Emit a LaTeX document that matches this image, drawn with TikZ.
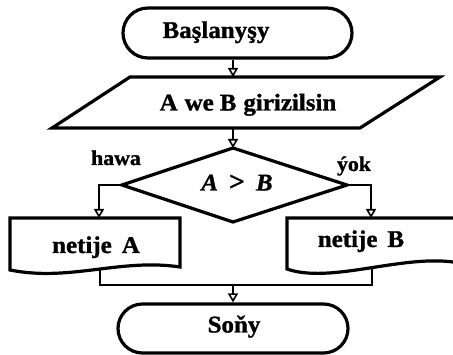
\documentclass[tikz,border=0pt]{standalone}
\usepackage{fontspec}
\setmainfont{Liberation Serif}[FakeStretch=1.04,FakeBold=1.2]
\usetikzlibrary{arrows.meta,shapes.misc}
\begin{document}
\begin{tikzpicture}[x=1pt,y=-1pt,
  shp/.style={line width=3.2pt, line join=miter},
  term/.style={shp, draw, rounded rectangle, inner sep=0pt},
  conn/.style={line width=2pt, -{Triangle[open, length=9pt, width=10pt, line width=1.6pt]}},
  plainline/.style={line width=2pt},
  txt/.style={inner sep=0pt, anchor=base, font=\fontsize{24}{28}\selectfont\bfseries},
  smalltxt/.style={inner sep=0pt, anchor=base, font=\fontsize{21}{25}\selectfont\bfseries}]
\useasboundingbox (0,0) rectangle (453,355);

% terminals
\node[term, minimum width=229pt, minimum height=50pt] (start) at (237.5,33) {};
\node[txt] (starttext) at (216,38) {Başlanyşy};
\node[term, minimum width=230pt, minimum height=49pt] (stop) at (233,328.5) {};
\node[txt] (stoptext) at (234,332.5) {Soňy};

% input parallelogram
\draw[shp] (130,77) -- (440,77) -- (360,128) -- (52,128) -- cycle;
\coordinate (intop) at (233,77);
\coordinate (inbot) at (233,128);
\node[txt] (intext) at (248,110.5) {A\hspace{7pt}we\hspace{6pt}B\hspace{7pt}girizilsin};

% decision
\draw[shp] (233,148) -- (347,185) -- (233,222) -- (122,185) -- cycle;
\coordinate (dtop) at (233,148);
\coordinate (dright) at (347,185);
\coordinate (dleft) at (122,185);
\node[txt] (dtext) at (237,190.5) {\itshape A\hspace{11pt}{\upshape\fontsize{27}{28}\selectfont >}\hspace{11pt}B};

% result A
\draw[shp] (10,270) -- (10,218) -- (180,218) -- (180,267) .. controls (120,258) and (70,282) .. (10,270) -- cycle;
\coordinate (ratop) at (99,218);
\coordinate (rabot) at (100,270);
\node[txt] (ratext) at (96,253) {netije\hspace{10pt}A};

% result B
\draw[shp] (456,218) -- (287,218) -- (287,269) .. controls (330,284) and (400,255) .. (453,262) -- (456,261.5);
\coordinate (rbtop) at (371,218);
\coordinate (rbbot) at (372,268);
\node[txt] (rbtext) at (361,247) {netije\hspace{10pt}B};

% labels
\node[smalltxt] (yes) at (116,165) {hawa};
\node[smalltxt] (no) at (354,171) {ýok};

% connectors
\draw[conn] (start.south -| intop) -- (intop);
\draw[conn] (inbot) -- (dtop);
\draw[conn] (dleft) -| (ratop);
\draw[conn] (dright) -| (rbtop);
\coordinate (join) at (233,285);
\draw[plainline] (rabot) |- (join) -| (rbbot);
\draw[conn] (join) -- (stop.north);
\end{tikzpicture}
\end{document}
